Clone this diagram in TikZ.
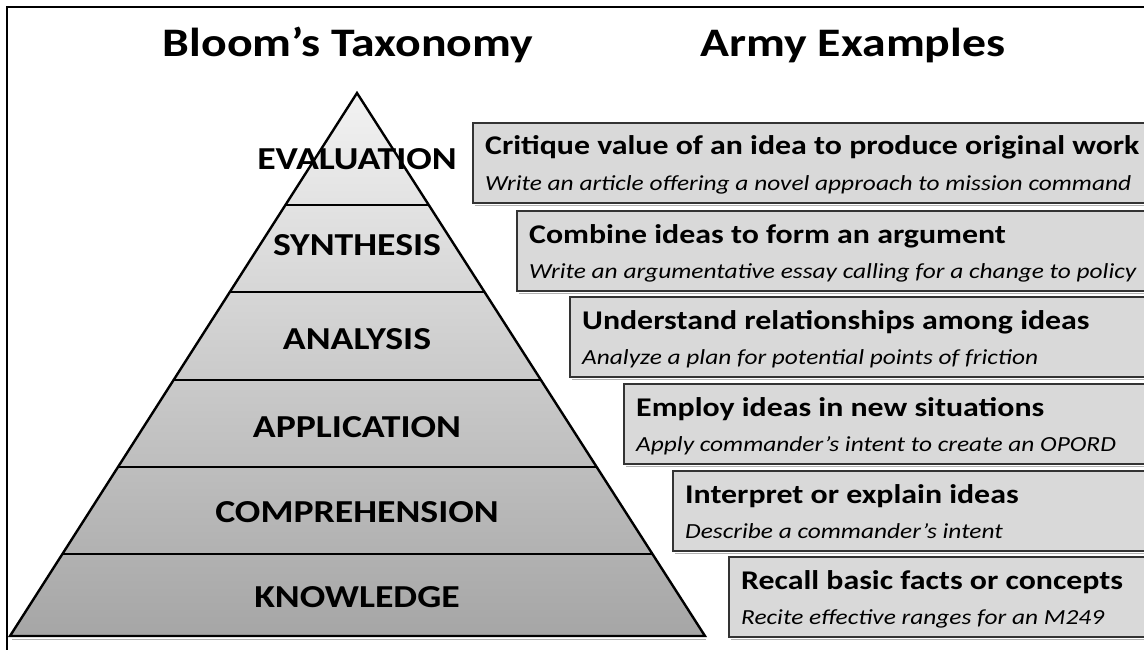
\documentclass[tikz,border=0pt]{standalone}
\usepackage{fontspec}
\setmainfont{Carlito}[FakeStretch=1.18]
\begin{document}
\begin{tikzpicture}[x=1pt,y=-1pt,
  lvl/.style={font=\bfseries\fontsize{32}{35}\selectfont, anchor=base, inner sep=0pt},
  ttl/.style={font=\bfseries\fontsize{40.5}{46}\selectfont, anchor=base, inner sep=0pt},
  exbox/.style={draw=black!80, line width=1.3pt, fill=black!15},
  exshadow/.style={draw=black!30, line width=1.2pt},
  exhead/.style={font=\bfseries\fontsize{27}{30}\selectfont, anchor=base west, inner sep=0pt},
  exsub/.style={font=\itshape\fontsize{21.5}{24}\selectfont, anchor=base west, inner sep=0pt},
  layerline/.style={line width=1.8pt, black}]
\useasboundingbox (0,0) rectangle (1144,650);
\fill[white] (0,0) rectangle (1144,650);
% frame
\draw[line width=1.5pt] (1150,7) -- (7,7) -- (7,655);
% titles
\node[ttl] (t1) at (348,57) {Bloom’s Taxonomy};
\node[ttl] (t2) at (853,57) {Army Examples};
% pyramid
\coordinate (apex) at (357,93);
\coordinate (bl) at (10,636);
\coordinate (br) at (705,636);
\shade[top color=black!5, bottom color=black!35] (apex) -- (bl) -- (br) -- cycle;
\foreach \yy in {205,292,380,467,554}{
  \pgfmathsetmacro{\dx}{(\yy-93)*0.63904}
  \draw[layerline] (357-\dx,\yy) -- (357+\dx,\yy);
}
\draw[black!30, line width=1.2pt] (12,639.5) -- (706,639.5);
\draw[line width=2.4pt, line join=miter] (apex) -- (bl) -- (br) -- cycle;
% labels
\node[lvl] (l1) at (357,170) {EVALUATION};
\node[lvl] (l2) at (357,255) {SYNTHESIS};
\node[lvl] (l3) at (357,349) {ANALYSIS};
\node[lvl] (l4) at (357,437) {APPLICATION};
\node[lvl] (l5) at (357,522) {COMPREHENSION};
\node[lvl] (l6) at (357,607) {KNOWLEDGE};
% boxes
\foreach \i/\xl/\yt/\head/\sub in {
  1/473/123/{Critique value of an idea to produce original work}/{Write an article offering a novel approach to mission command},
  2/517/211/{Combine ideas to form an argument}/{Write an argumentative essay calling for a change to policy},
  3/570/297/{Understand relationships among ideas}/{Analyze a plan for potential points of friction},
  4/624/384/{Employ ideas in new situations}/{Apply commander’s intent to create an OPORD},
  5/673/471/{Interpret or explain ideas}/{Describe a commander’s intent},
  6/729/557/{Recall basic facts or concepts}/{Recite effective ranges for an M249}}{
  \draw[exshadow] (\xl+2,\yt+82.5) -- (1160,\yt+82.5);
  \draw[exbox] (\xl,\yt) rectangle (1160,\yt+80);
  \node[exhead] (h\i) at (\xl+12,\yt+32) {\head};
  \node[exsub] (s\i) at (\xl+12,\yt+67) {\sub};
}
\end{tikzpicture}
\end{document}
